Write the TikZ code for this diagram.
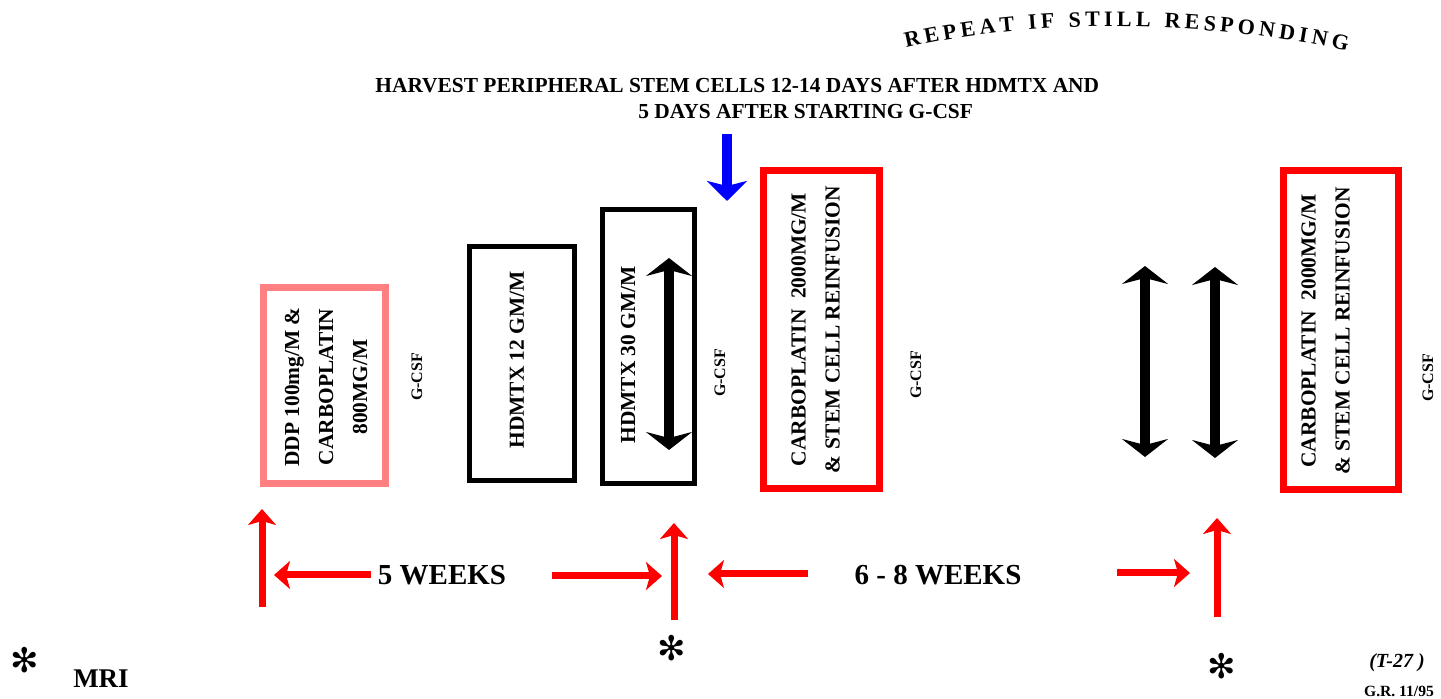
\documentclass[tikz,border=0pt]{standalone}
\usepackage{fontspec}
\setmainfont{Liberation Serif}
\newfontfamily\symfont{DejaVu Sans}
\usetikzlibrary{arrows.meta,decorations.text}
\definecolor{pinkred}{RGB}{255,128,128}
\tikzset{
  boxtxt/.style={rotate=90, align=center, inner sep=0pt, font=\bfseries\fontsize{10.7}{17}\selectfont},
  gcsf/.style={rotate=90, inner sep=0pt, font=\bfseries\fontsize{8}{9}\selectfont},
  redbox/.style={draw=red, line width=3.5pt, inner sep=0pt},
  pinkbox/.style={draw=pinkred, line width=3.5pt, inner sep=0pt},
  blackbox/.style={draw=black, line width=2.5pt, inner sep=0pt},
  redarrow/.style={red, line width=3.5pt, -{Stealth[length=8pt,width=14pt,inset=2pt]}},
  twoway/.style={line width=5pt, {Stealth[length=9pt,width=23pt,inset=3pt]}-{Stealth[length=9pt,width=23pt,inset=3pt]}},
  weeks/.style={inner sep=0pt, font=\bfseries\fontsize{14.5}{16}\selectfont},
  starsym/.style={inner sep=0pt, font=\symfont\fontsize{17}{17}\selectfont}
}
\begin{document}
\begin{tikzpicture}[x=0.5pt, y=-0.5pt]
      \useasboundingbox (0,0) rectangle (1441,699);
      \path [decorate, decoration={text along path, text align=fit to path,
        text={|\bfseries\fontsize{11}{13}\selectfont|REPEAT IF STILL RESPONDING}}]
        (906,48) .. controls (1030,19) and (1200,19) .. (1347,51);
      \node (harvest1) [anchor=base west, inner sep=0pt, font=\bfseries\fontsize{10.7}{12}\selectfont]
        at (375,93) {HARVEST PERIPHERAL STEM CELLS 12-14 DAYS AFTER HDMTX AND};
      \node (harvest2) [anchor=base west, inner sep=0pt, font=\bfseries\fontsize{10.7}{12}\selectfont]
        at (638,119) {5 DAYS AFTER STARTING G-CSF};
      \draw [blue, line width=5pt, -{Stealth[length=10pt,width=20pt,inset=2.5pt]}] (727,134) -- (727,201);

      \node (ddp) [pinkbox, minimum width=61pt, minimum height=98pt] at (324.5,385.5) {};
      \node (ddptxt) [boxtxt] at (326,387) {DDP 100mg/M \&\\CARBOPLATIN\\800MG/M};
      \node (hd12) [blackbox, minimum width=52.5pt, minimum height=117pt] at (522,363.5) {};
      \node (hd12txt) [boxtxt] at (517,360) {HDMTX 12 GM/M};
      \node (hd30) [blackbox, minimum width=46pt, minimum height=137pt] at (648.5,346.5) {};
      \node (hd30txt) [boxtxt] at (628,355) {HDMTX 30 GM/M};
      \node (carbo1) [redbox, minimum width=58pt, minimum height=159pt] at (821.5,329.5) {};
      \node (carbo1txt) [boxtxt] at (815.5,329.5) {CARBOPLATIN\ \ 2000MG/M\\\& STEM CELL REINFUSION};
      \node (carbo2) [redbox, minimum width=57.5pt, minimum height=159.5pt] at (1341,330) {};
      \node (carbo2txt) [boxtxt] at (1325.5,331) {CARBOPLATIN\ \ 2000MG/M\\\& STEM CELL REINFUSION};

      \node (g1) [gcsf] at (417,377) {G-CSF};
      \node (g2) [gcsf] at (720,373) {G-CSF};
      \node (g3) [gcsf] at (916,375) {G-CSF};
      \node (g4) [gcsf] at (1428,378) {G-CSF};

      \draw [twoway] (669,258) -- (669,450);
      \draw [twoway] (1145,266) -- (1145,457);
      \draw [twoway] (1215,267) -- (1215,458);

      \node (w5) [weeks] at (442,575) {5 WEEKS};
      \node (w68) [weeks] at (938,575) {6 - 8 WEEKS};
      \coordinate (start1) at (262,607);
      \coordinate (start2) at (674,620);
      \coordinate (start3) at (1217,617);
      \draw [redarrow] (start1) -- ++(0,-98);
      \draw [redarrow] (start2) -- ++(0,-97);
      \draw [redarrow] (start3) -- ++(0,-99);
      \draw [redarrow] (371,575) -- (274,575);
      \draw [redarrow] (552,576) -- (662,576);
      \draw [redarrow] (808,574) -- (708,574);
      \draw [redarrow] (1117,573) -- (1190,573);

      \node (mri1) [starsym] at (25,660) {✻};
      \node (mri2) [starsym] at (672,648) {✻};
      \node (mri3) [starsym] at (1222,666) {✻};
      \node (mri) [inner sep=0pt, font=\bfseries\fontsize{13.5}{15}\selectfont] at (101,679) {MRI};
      \node (tno) [inner sep=0pt, font=\bfseries\itshape\fontsize{10}{12}\selectfont] at (1397,663) {(T-27 )};
      \node (gr) [inner sep=0pt, font=\bfseries\fontsize{7.8}{9}\selectfont] at (1399,691) {G.R. 11/95};
    \end{tikzpicture}
\end{document}
